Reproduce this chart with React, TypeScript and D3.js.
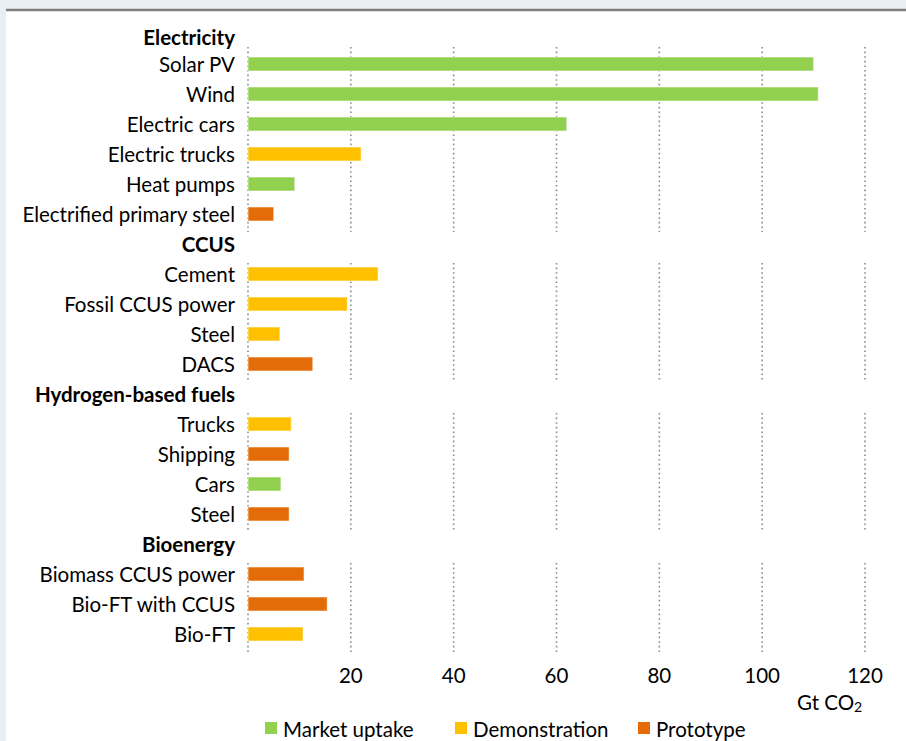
import React from "react";
import * as d3 from "d3";

const groups = ["Electricity", "CCUS", "Hydrogen-based fuels", "Bioenergy"];
const categories = [
  "Solar PV", "Wind", "Electric cars", "Electric trucks", "Heat pumps", "Electrified primary steel",
  "Cement", "Fossil CCUS power", "Steel", "DACS",
  "Trucks", "Shipping", "Cars", "Steel",
  "Biomass CCUS power", "Bio-FT with CCUS", "Bio-FT",
];
const categoryGroup = [0, 0, 0, 0, 0, 0, 1, 1, 1, 1, 2, 2, 2, 2, 3, 3, 3];
const values = [110, 110.9, 62, 22, 9.1, 5, 25.3, 19.3, 6.2, 12.6, 8.4, 8, 6.4, 8, 10.9, 15.4, 10.7];
const stage = [0, 0, 0, 1, 0, 2, 1, 1, 1, 2, 1, 2, 0, 2, 2, 2, 1];
const stageNames = ["Market uptake", "Demonstration", "Prototype"];
const stageColors = ["#92d050", "#ffc000", "#e36c09"];
const xTicks = [20, 40, 60, 80, 100, 120];
const gridTicks = [0, 20, 40, 60, 80, 100, 120];

const FONT = "Lato, 'Open Sans', sans-serif";
const FS = 20.5;

export default function App() {
  const W = 906, H = 741;
  const x = d3.scaleLinear().domain([0, 120]).range([248, 865]);

  type Row = { label: string; header: boolean; idx: number; group: number };
  const rows: Row[] = [];
  groups.forEach((g, gi) => {
    rows.push({ label: g, header: true, idx: -1, group: gi });
    categories.forEach((c, ci) => {
      if (categoryGroup[ci] === gi) rows.push({ label: c, header: false, idx: ci, group: gi });
    });
  });
  const y = d3.scaleBand<number>().domain(d3.range(rows.length)).range([19, 19 + 30 * rows.length]).padding(0);
  const yc = (i: number) => (y(i) as number) + y.bandwidth() / 2;
  const barH = 14;

  const segments = groups.map((g, gi) => {
    const ids = rows.map((r, i) => (r.group === gi && !r.header ? i : -1)).filter((i) => i >= 0);
    const first = ids[0], last = ids[ids.length - 1];
    return { y0: gi === 0 ? 47 : yc(first) - 11, y1: yc(last) + 18 };
  });

  const legendX = [265, 455, 638];

  return (
    <svg width={W} height={H} style={{ position: "absolute", left: 0, top: 0 }} fontFamily={FONT}>
      <rect x={0} y={0} width={W} height={H} fill="#e9eef3" />
      <rect x={6} y={10} width={W - 6} height={H - 10} fill="#ffffff" />
      <line x1={6} x2={W} y1={10} y2={10} stroke="#7f7f7f" strokeWidth={2.5} />

      {segments.map((s, si) =>
        gridTicks.map((t) => (
          <line key={`g${si}-${t}`} x1={x(t)} x2={x(t)} y1={s.y0} y2={s.y1}
            stroke="#8c8c8c" strokeWidth={1.6} strokeDasharray="1.6 3" />
        ))
      )}

      {rows.map((r, i) =>
        r.header ? (
          <text key={`h${i}`} x={235} y={yc(i) + (i === 0 ? 3 : 0)} textAnchor="end" dominantBaseline="central"
            fontSize={FS} fontWeight="bold" fill="#000">{r.label}</text>
        ) : (
          <g key={`r${i}`}>
            <text x={235} y={yc(i)} textAnchor="end" dominantBaseline="central" fontSize={FS} fill="#000">{r.label}</text>
            <rect x={x(0)} y={yc(i) - barH / 2} width={x(values[r.idx]) - x(0)} height={barH}
              fill={stageColors[stage[r.idx]]} stroke="rgba(255,255,255,0.55)" strokeWidth={1} />
          </g>
        )
      )}

      {xTicks.map((t) => (
        <text key={`t${t}`} x={x(t)} y={675} textAnchor="middle" dominantBaseline="central" fontSize={FS} fill="#000">{t}</text>
      ))}
      <text x={797} y={702} dominantBaseline="central" fontSize={FS} fill="#000">
        Gt CO<tspan fontSize={14} dy={4}>2</tspan>
      </text>

      {stageNames.map((n, i) => (
        <g key={`l${i}`}>
          <rect x={legendX[i]} y={722} width={12} height={12} fill={stageColors[i]} />
          <text x={legendX[i] + 18} y={729} dominantBaseline="central" fontSize={FS} fill="#000">{n}</text>
        </g>
      ))}
    </svg>
  );
}
